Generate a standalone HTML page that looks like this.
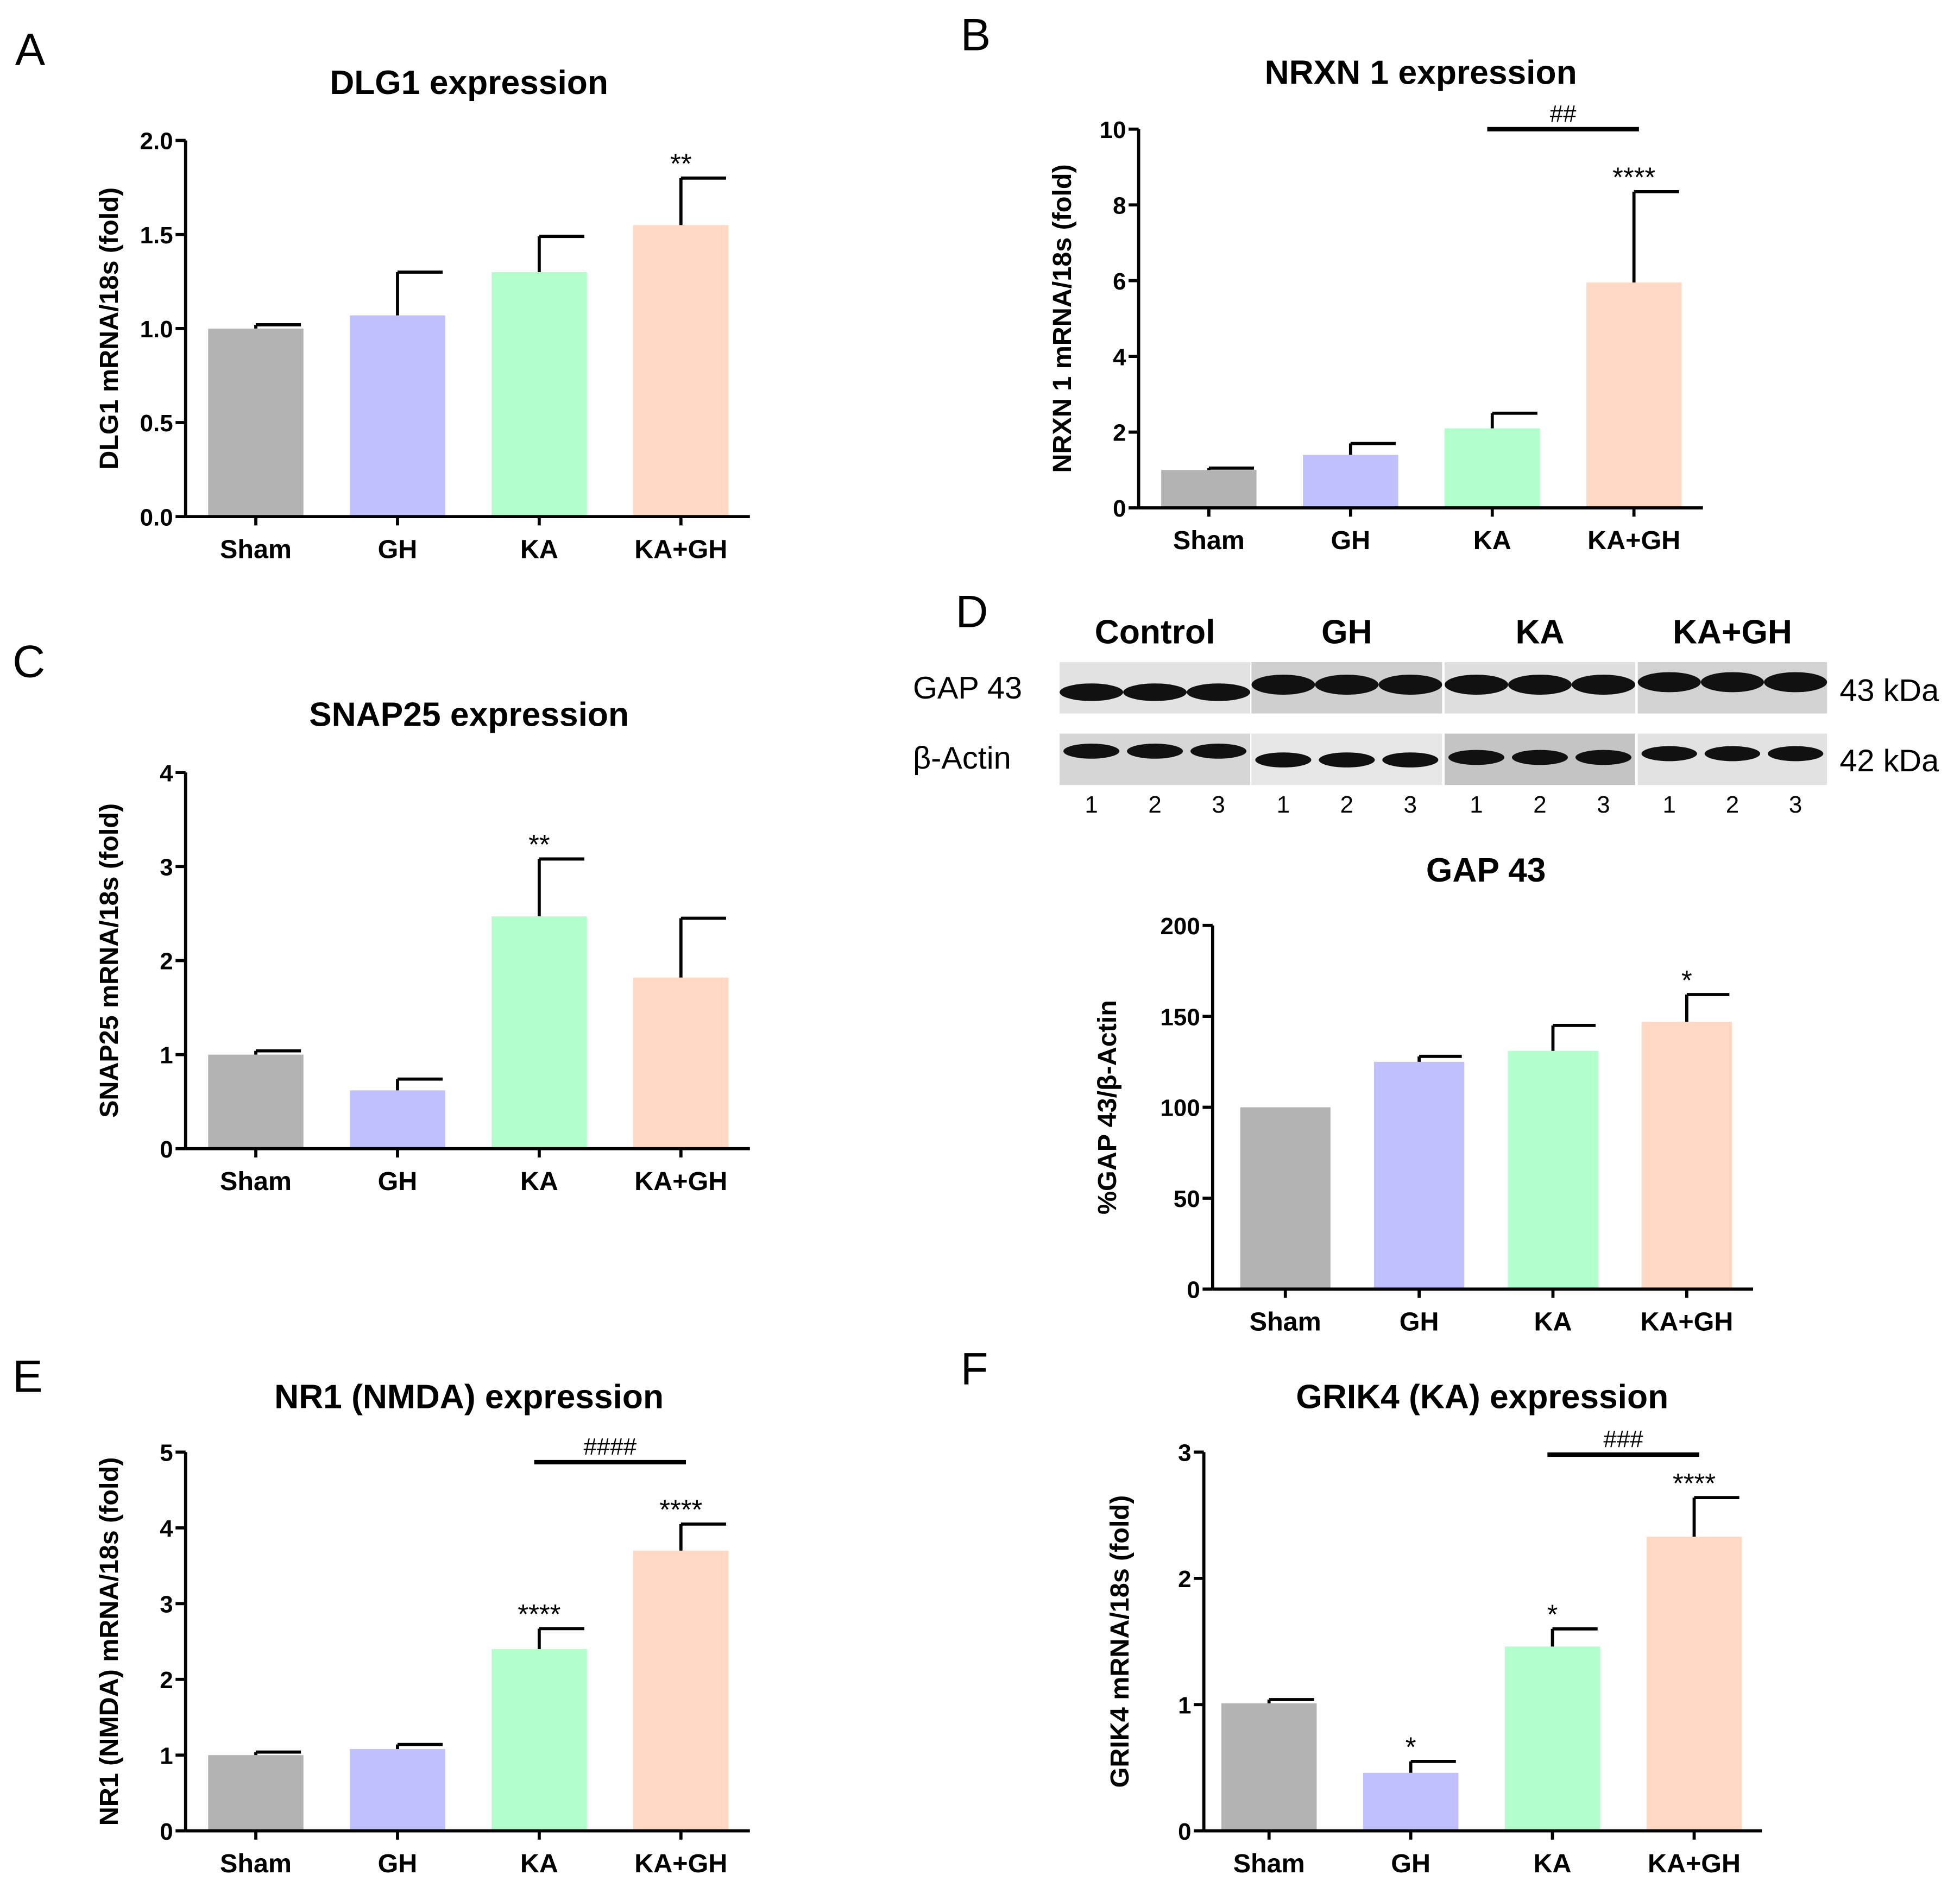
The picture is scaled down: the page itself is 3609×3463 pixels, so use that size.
<!DOCTYPE html>
<html><head><meta charset="utf-8"><style>
html,body{margin:0;padding:0;background:#fff;}
svg{display:block;font-family:"Liberation Sans",sans-serif;}
.t{font-weight:bold;}
</style></head><body>
<svg id="fig" width="3609" height="3463" viewBox="0 0 1563 1500" preserveAspectRatio="none" xmlns="http://www.w3.org/2000/svg"></svg>
<script>
const categories = ["Sham","GH","KA","KA+GH"];
const colors = ["#b3b3b3","#c0c0ff","#b3ffcc","#ffd9c4"];
const dlg1Values = [1.0,1.07,1.30,1.55];
const dlg1Err = [1.02,1.30,1.49,1.80];
const dlg1Ticks = ["0.0","0.5","1.0","1.5","2.0"];
const nrxnValues = [1.0,1.4,2.1,5.95];
const nrxnErr = [1.05,1.7,2.5,8.35];
const nrxnTicks = ["0","2","4","6","8","10"];
const snapValues = [1.0,0.62,2.47,1.82];
const snapErr = [1.04,0.74,3.08,2.45];
const snapTicks = ["0","1","2","3","4"];
const gapValues = [100,125,131,147];
const gapErr = [100,128,145,162];
const gapTicks = ["0","50","100","150","200"];
const nr1Values = [1.0,1.08,2.4,3.7];
const nr1Err = [1.04,1.14,2.67,4.05];
const nr1Ticks = ["0","1","2","3","4","5"];
const grikValues = [1.01,0.46,1.46,2.33];
const grikErr = [1.04,0.55,1.60,2.64];
const grikTicks = ["0","1","2","3"];

const NS="http://www.w3.org/2000/svg";
const svg=document.getElementById('fig');
function mk(tag,attrs,parent,text){const e=document.createElementNS(NS,tag);for(const k in attrs)e.setAttribute(k,attrs[k]);if(text!==undefined)e.textContent=text;(parent||svg).appendChild(e);return e;}

function chart(o){
  const g=mk('g',{});
  
  
  const max=o.max, yS=v=>o.y0-(o.y0-o.y1)*v/max;
  const n=o.ticks.length;
  o.ticks.forEach((t,i)=>{const v=max*i/(n-1);const yy=yS(v);
    mk('line',{x1:o.ax-8,x2:o.ax,y1:yy,y2:yy,stroke:'#000','stroke-width':2.5},g);
    const tl=mk('text',{x:o.ax-10,y:yy+7,'text-anchor':'end','font-size':19,class:'t'},g,t);
    
  });
  o.vals.forEach((v,i)=>{
    const cx=o.bx0+i*o.step, x=cx-o.bw/2;
    const b=mk('rect',{x:x,y:yS(v),width:o.bw,height:o.y0-yS(v),fill:colors[i]},g);
    
    
    if(o.err[i]>v){
      mk('line',{x1:cx,x2:cx,y1:yS(v),y2:yS(o.err[i]),stroke:'#000','stroke-width':2.5},g);
      mk('line',{x1:cx,x2:cx+o.bw/2-2,y1:yS(o.err[i]),y2:yS(o.err[i]),stroke:'#000','stroke-width':2.5},g);
    }
    const cl=mk('text',{x:cx,y:o.y0+33,'text-anchor':'middle','font-size':21,class:'t'},g,categories[i]);
    
    mk('line',{x1:cx,x2:cx,y1:o.y0,y2:o.y0+7,stroke:'#000','stroke-width':2.5},g);
    if(o.stars&&o.stars[i]){const s=mk('text',{x:cx,y:yS(o.err[i])-4,'text-anchor':'middle','font-size':22},g,o.stars[i]);
      }
  });
  mk('line',{x1:o.ax,x2:o.ax,y1:o.y1,y2:o.y0,stroke:'#000','stroke-width':2.5},g);
  mk('line',{x1:o.ax,x2:o.axEnd,y1:o.y0,y2:o.y0,stroke:'#000','stroke-width':2.5},g);
  const ti=mk('text',{x:o.tx,y:o.ty,'text-anchor':'middle','font-size':27,class:'t'},g,o.title);
  
  const yc=(o.y0+o.y1)/2;
  const yl=mk('text',{x:o.ylx,y:yc,'text-anchor':'middle','font-size':21,class:'t',transform:`rotate(-90 ${o.ylx} ${yc})`},g,o.ylabel);
  
  const L=mk('text',{x:o.lx,y:o.ly,'font-size':36},g,o.letter);
  
  if(o.bracket){const bi=o.bracket;const c1=o.bx0+bi.a*o.step,c2=o.bx0+bi.b*o.step;
    const by=bi.y; mk('line',{x1:c1-4,x2:c2+4,y1:by,y2:by,stroke:'#000','stroke-width':3.5},g);
    const bt=mk('text',{x:(c1+c2)/2,y:by-6,'text-anchor':'middle','font-size':19},g,bi.label);
    }
}

chart({name:'dlg1-chart',vals:dlg1Values,err:dlg1Err,ticks:dlg1Ticks,max:2,ax:148,axEnd:598,y0:412,y1:112,bx0:204,step:113,bw:76,title:'DLG1 expression',tx:374,ty:75,ylabel:'DLG1 mRNA/18s (fold)',ylx:94,letter:'A',lx:12,ly:52,stars:['','','','**']});
chart({name:'nrxn1-chart',vals:nrxnValues,err:nrxnErr,ticks:nrxnTicks,max:10,ax:908,axEnd:1358,y0:405,y1:103,bx0:964,step:113,bw:76,title:'NRXN 1 expression',tx:1133,ty:67,ylabel:'NRXN 1 mRNA/18s (fold)',ylx:854,letter:'B',lx:766,ly:40,stars:['','','','****'],bracket:{a:2,b:3,y:103,label:'##'}});
chart({name:'snap25-chart',vals:snapValues,err:snapErr,ticks:snapTicks,max:4,ax:148,axEnd:598,y0:916,y1:616,bx0:204,step:113,bw:76,title:'SNAP25 expression',tx:374,ty:579,ylabel:'SNAP25 mRNA/18s (fold)',ylx:94,letter:'C',lx:10,ly:540,stars:['','','**','']});
chart({name:'gap43-chart',vals:gapValues,err:gapErr,ticks:gapTicks,max:200,ax:967,axEnd:1398,y0:1028,y1:738,bx0:1025,step:106.7,bw:72,title:'GAP 43',tx:1185,ty:703,ylabel:'%GAP 43/β-Actin',ylx:890,letter:'D',lx:762,ly:500,stars:['','','','*']});
chart({name:'nr1-chart',vals:nr1Values,err:nr1Err,ticks:nr1Ticks,max:5,ax:148,axEnd:598,y0:1460,y1:1158,bx0:204,step:113,bw:76,title:'NR1 (NMDA) expression',tx:374,ty:1123,ylabel:'NR1 (NMDA) mRNA/18s (fold)',ylx:94,letter:'E',lx:10,ly:1110,stars:['','','****','****'],bracket:{a:2,b:3,y:1166,label:'####'}});
chart({name:'grik4-chart',vals:grikValues,err:grikErr,ticks:grikTicks,max:3,ax:960,axEnd:1405,y0:1460,y1:1158,bx0:1012,step:113,bw:76,title:'GRIK4 (KA) expression',tx:1182,ty:1123,ylabel:'GRIK4 mRNA/18s (fold)',ylx:900,letter:'F',lx:766,ly:1104,stars:['','*','*','****'],bracket:{a:2,b:3,y:1160,label:'###'}});

// Western blot
const blot=mk('g',{});


const groups=["Control","GH","KA","KA+GH"];
const gx=[845,998,1152,1306], gw=[152,152,152,151];
const bgTop=["#e2e2e2","#cfcfcf","#dedede","#d2d2d2"], bgBot=["#d6d6d6","#e6e6e6","#c4c4c4","#e2e2e2"];
const topY=[552,546,546,544], botY=[599,606,604,601];
groups.forEach((g,i)=>{
  const h=mk('text',{x:gx[i]+gw[i]/2,y:513,'text-anchor':'middle','font-size':27,class:'t'},blot,g);
  
  mk('rect',{x:gx[i],y:528,width:gw[i],height:41,fill:bgTop[i]},blot);
  mk('rect',{x:gx[i],y:585,width:gw[i],height:41,fill:bgBot[i]},blot);
  for(let k=0;k<3;k++){
    const cx=gx[i]+gw[i]*(k*2+1)/6;
    mk('ellipse',{cx:cx,cy:topY[i],rx:gw[i]/6,ry:i==0?7:8,fill:'#111'},blot);
    mk('ellipse',{cx:cx,cy:botY[i],rx:gw[i]/6-3,ry:6,fill:'#111'},blot);
    const nl=mk('text',{x:cx,y:648,'text-anchor':'middle','font-size':19},blot,String(k+1));
    
  }
});
[['GAP 43',557,'43 kDa'],['β-Actin',613,'42 kDa']].forEach(r=>{
  const a=mk('text',{x:728,y:r[1],'font-size':25},blot,r[0]);
  
  const b=mk('text',{x:1467,y:r[1]+2,'font-size':25},blot,r[2]);
  
});
</script>
</body></html>
